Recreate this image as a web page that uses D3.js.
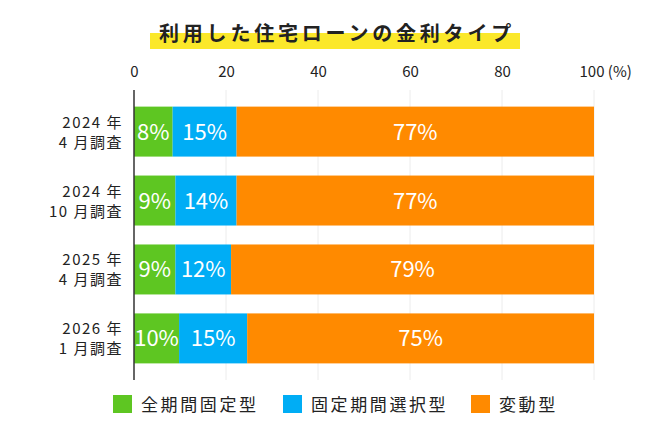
<!DOCTYPE html>
<html>
<head>
<meta charset="utf-8">
<script src="https://cdn.jsdelivr.net/npm/d3@7"></script>
<style>
  body{margin:0;background:#fff;}
  svg{display:block;font-family:'Noto Sans CJK JP','Noto Sans',sans-serif;}
</style>
</head>
<body>
<svg id="chart" width="670" height="440"></svg>
<script>
// data
var surveys=[['2024 年','4 月調査'],['2024 年','10 月調査'],['2025 年','4 月調査'],['2026 年','1 月調査']];
var seriesNames=['全期間固定型','固定期間選択型','変動型'];
// printed labels (%)
var labelFixedAll=[8,9,9,10];
var labelFixedPeriod=[15,14,12,15];
var labelVariable=[77,77,79,75];
// bar lengths as measured on the picture (%)
var fixedAll=[8.4,9.0,9.0,9.8];
var fixedPeriod=[13.9,13.3,12.1,14.8];
var variable=[77.7,77.7,78.9,75.4];
var xTicks=[0,20,40,60,80,100];
var colors=['#5ec622','#00adf5','#ff8a00'];

var svg=d3.select('#chart');
// plot box (note: "top" is taken by window.top, so use plotTop)
var plotLeft=134, plotRight=594, plotTop=88, plotBottom=382;

var x=d3.scaleLinear().domain([0,100]).range([plotLeft,plotRight]);
var y=d3.scaleBand().domain(d3.range(surveys.length)).range([plotTop,plotBottom]).paddingInner(0.275).paddingOuter(0.27);

// title with marker highlight
var title_g=svg.append('g');
title_g.append('rect')
    .attr('x',150).attr('y',33).attr('width',370).attr('height',16)
    .attr('fill','#fbe82a');
title_g.append('text')
    .attr('x',337).attr('y',41)
    .attr('text-anchor','middle')
    .style('font-size','20px')
    .style('font-weight','700')
    .style('letter-spacing','3.8px')
    .style('fill','#222')
    .text('利用した住宅ローンの金利タイプ');

// grid
svg.append('g').selectAll('line')
    .data(xTicks.slice(1))
    .enter().append('line')
    .attr('x1',function(d){return x(d);}).attr('x2',function(d){return x(d);})
    .attr('y1',90).attr('y2',380)
    .attr('stroke','#ececec').attr('stroke-width',1);

// top axis labels
var axis=d3.axisTop(x).tickValues(xTicks).tickSize(0).tickPadding(0)
    .tickFormat(function(d){return d==100?'100 (%)':String(d);});
var axis_g=svg.append('g').attr('transform','translate(0,77)').call(axis);
axis_g.select('.domain').remove();
axis_g.selectAll('text')
    .attr('y',0).attr('dy',0)
    .style('font-size','15px')
    .style('font-family',"'Noto Sans CJK JP',sans-serif")
    .style('fill','#222')
    .attr('text-anchor',function(d){return d==100?'start':'middle';})
    .attr('dx',function(d){return d==100?-15:0;});

// stacked rows
var rows=surveys.map(function(s,i){return {fixedAll:fixedAll[i],fixedPeriod:fixedPeriod[i],variable:variable[i]};});
var keys=['fixedAll','fixedPeriod','variable'];
var labels=[labelFixedAll,labelFixedPeriod,labelVariable];
var stack=d3.stack().keys(keys)(rows);

var layer=svg.append('g').selectAll('g')
    .data(stack)
    .enter().append('g')
    .attr('fill',function(d,i){return colors[i];});

layer.selectAll('rect')
    .data(function(d){return d;})
    .enter().append('rect')
    .attr('x',function(d){return x(d[0]);})
    .attr('width',function(d){return x(d[1])-x(d[0]);})
    .attr('y',function(d,i){return y(i);})
    .attr('height',y.bandwidth());

layer.each(function(s,k){
    d3.select(this).selectAll('text')
        .data(s)
        .enter().append('text')
        .attr('x',function(d){return (x(d[0])+x(d[1]))/2;})
        .attr('y',function(d,i){return y(i)+y.bandwidth()/2+8;})
        .attr('text-anchor','middle')
        .style('font-size','22px')
        .style('fill','#fff')
        .text(function(d,i){return labels[k][i]+'%';});
});

// axis line
svg.append('line')
    .attr('x1',plotLeft).attr('x2',plotLeft).attr('y1',90).attr('y2',380)
    .attr('stroke','#333').attr('stroke-width',1.5);

// category labels
var cat=svg.append('g').selectAll('text')
    .data(surveys)
    .enter().append('text')
    .attr('text-anchor','end')
    .style('font-size','15px')
    .style('letter-spacing','1.5px')
    .style('fill','#222');
cat.append('tspan')
    .attr('x',123)
    .attr('y',function(d,i){return y(i)+y.bandwidth()/2-4;})
    .text(function(d){return d[0];});
cat.append('tspan')
    .attr('x',123)
    .attr('y',function(d,i){return y(i)+y.bandwidth()/2+16;})
    .text(function(d){return d[1];});

// legend
var legendX=[113,283,471];
var leg=svg.append('g').selectAll('g')
    .data(seriesNames)
    .enter().append('g')
    .attr('transform',function(d,i){return 'translate('+legendX[i]+',395)';});
leg.append('rect')
    .attr('width',19).attr('height',18)
    .attr('fill',function(d,i){return colors[i];});
leg.append('text')
    .attr('x',28).attr('y',15.5)
    .style('font-size','17px')
    .style('letter-spacing','2.6px')
    .style('fill','#222')
    .text(function(d){return d;});
</script>
</body>
</html>
